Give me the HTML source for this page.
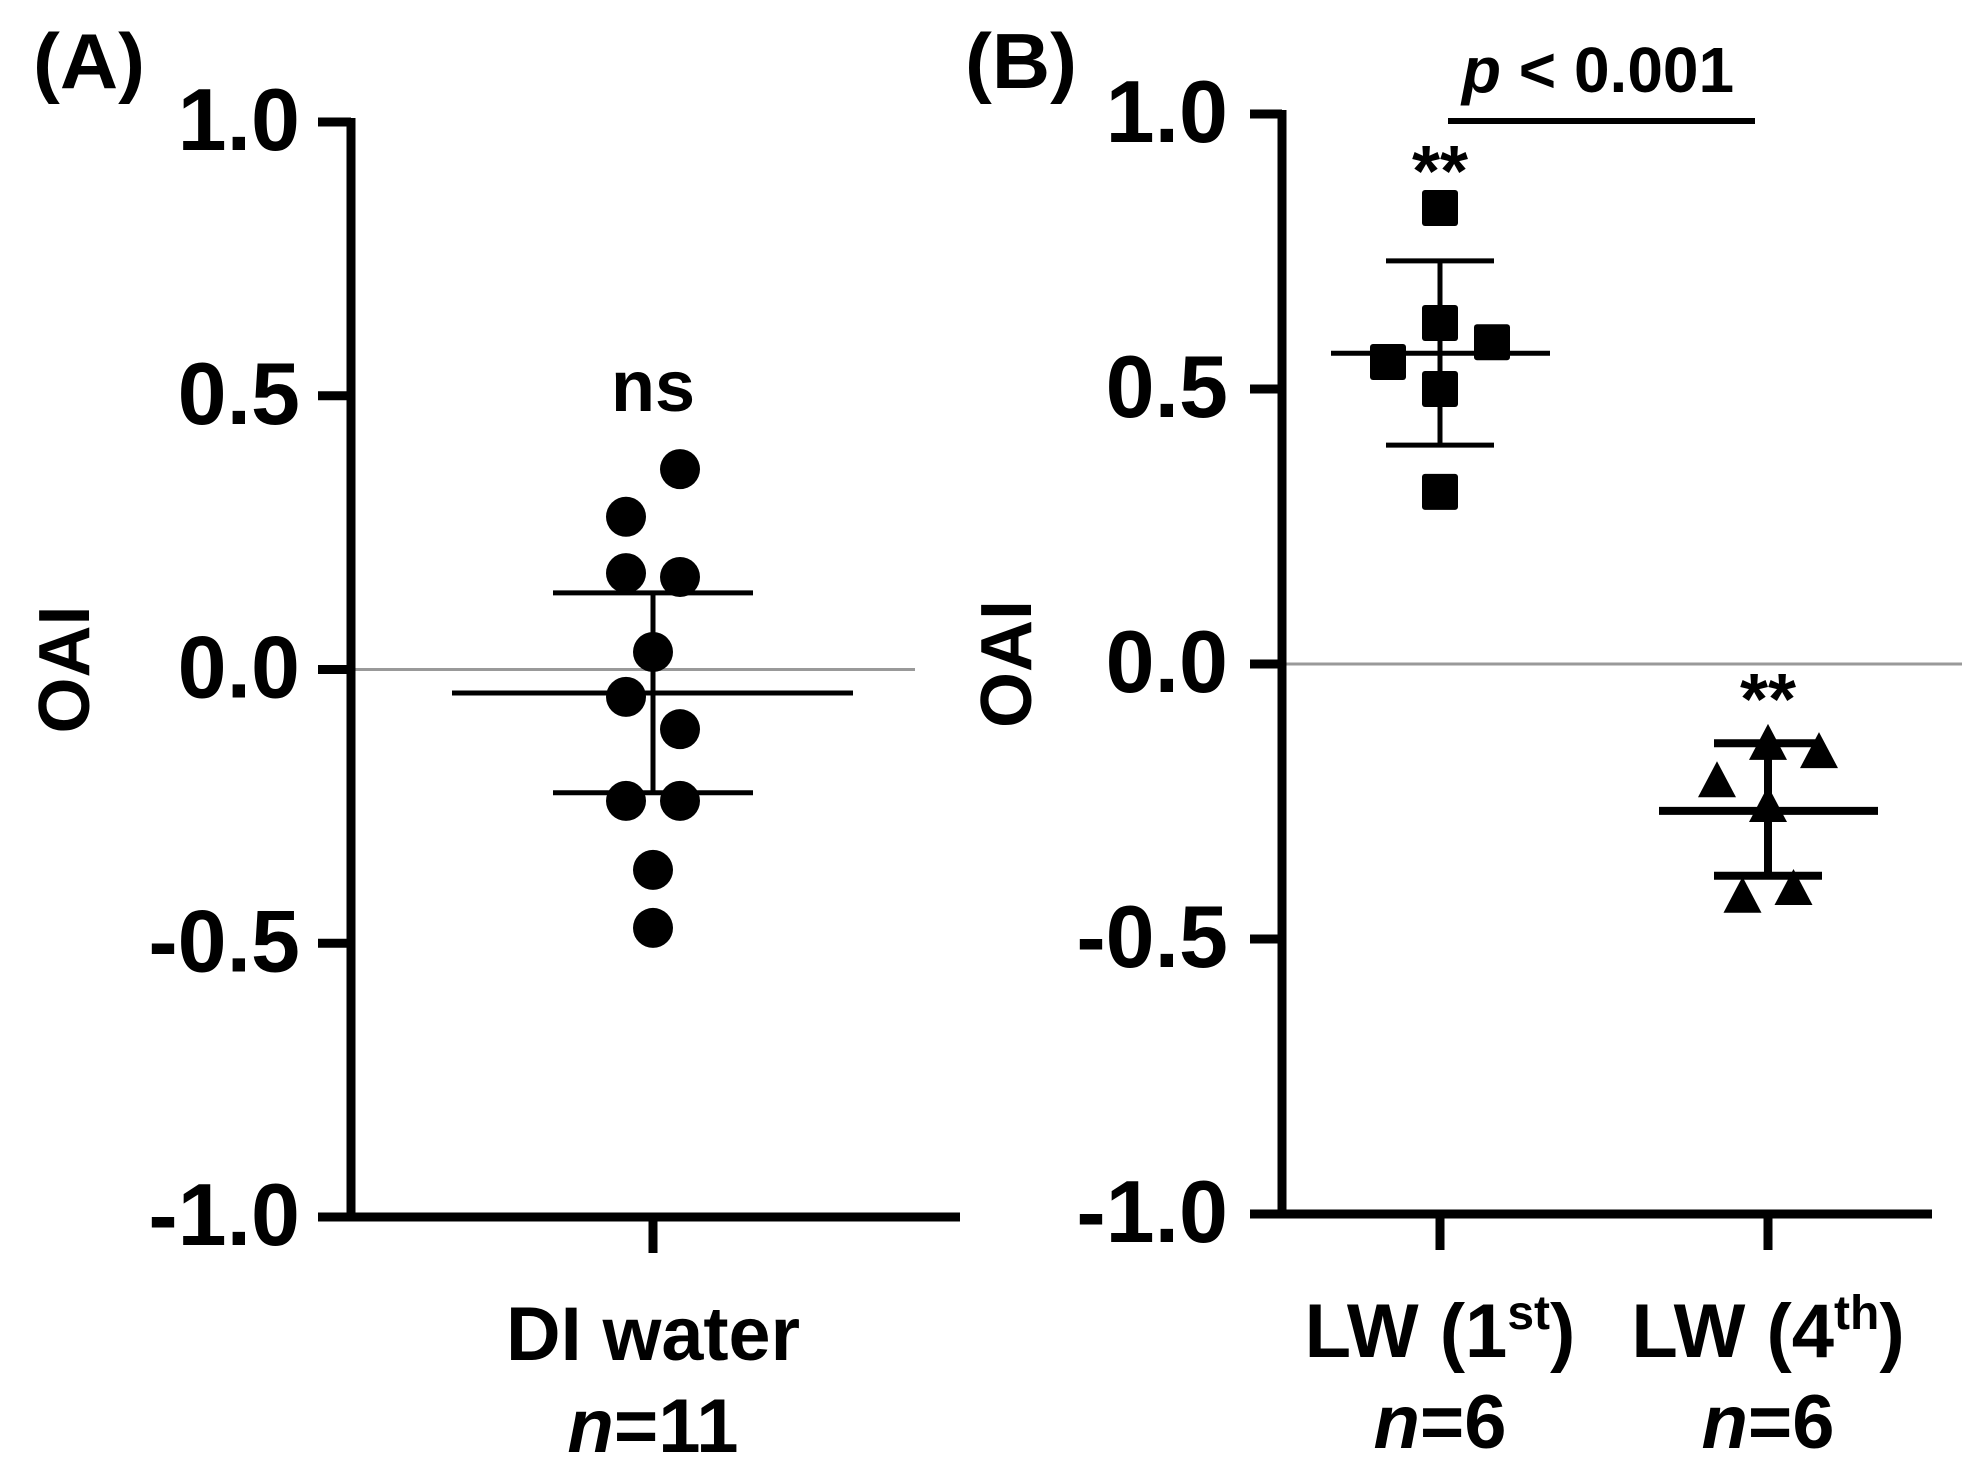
<!DOCTYPE html>
<html><head><meta charset="utf-8"><style>
html,body{margin:0;padding:0;background:#fff}
svg{display:block}
text{font-family:"Liberation Sans",Arial,sans-serif;font-weight:bold;fill:#000}
</style></head><body>
<svg id="fig" width="1978" height="1476" viewBox="0 0 1978 1476" xmlns="http://www.w3.org/2000/svg">
<g id="panelA"></g>
<g id="panelB"></g>
</svg>
<script>
const yTicks = [1.0, 0.5, 0.0, -0.5, -1.0];
const yTickLabels = ["1.0", "0.5", "0.0", "-0.5", "-1.0"];
const catsA = ["DI water"];
const nA = ["11"];
const diWater = [0.366, 0.279, 0.176, 0.169, 0.032, -0.05, -0.109, -0.24, -0.24, -0.366, -0.472];
const diWaterSlot = [1, -1, -1, 1, 0, -1, 1, -1, 1, 0, 0];
const diMean = [-0.043];
const diSdUpper = [0.14];
const diSdLower = [-0.225];
const lw1 = [0.829, 0.62, 0.549, 0.585, 0.5, 0.313];
const lw1Slot = [0, 0, -1, 1, 0, 0];
const lw4 = [-0.147, -0.162, -0.215, -0.26, -0.425, -0.411];
const lw4Slot = [0, 1, -1, 0, -0.5, 0.5];
const lwMean = [0.565, -0.267];
const lwSdUpper = [0.733, -0.144];
const lwSdLower = [0.398, -0.385];
const sigLabel = ["**", "**"];

const NS = "http://www.w3.org/2000/svg";
function mk(parent, tag, attrs, txt){
  const e = document.createElementNS(NS, tag);
  for (const k in attrs) e.setAttribute(k, attrs[k]);
  if (txt !== undefined) e.textContent = txt;
  parent.appendChild(e);
  return e;
}
function yA(v){ return 669.5 - v*547.5; }
function yB(v){ return 664 - v*550; }

// ---------- Panel A ----------
const A = document.getElementById('panelA');
const axA = 351, xA = 653;
let t = mk(A,'text',{x:33,y:88,'font-size':78,textLength:112,lengthAdjust:'spacingAndGlyphs'},'(A)');


let zl = mk(A,'line',{x1:axA,x2:915,y1:yA(0),y2:yA(0),stroke:'#999','stroke-width':3});


yTicks.forEach((v,i)=>{
  const tk = mk(A,'line',{x1:318,x2:axA,y1:yA(v),y2:yA(v),stroke:'#000','stroke-width':9});
  
  
  const lb = mk(A,'text',{x:300,y:yA(v)+28,'font-size':88,'text-anchor':'end'},yTickLabels[i]);
  
  
});
let ax = mk(A,'path',{d:`M${axA} ${yA(1)-4} V${yA(-1)} H960`,stroke:'#000','stroke-width':9,fill:'none'});


let xt = mk(A,'line',{x1:xA,x2:xA,y1:yA(-1),y2:yA(-1)+36,stroke:'#000','stroke-width':9});


t = mk(A,'text',{x:63,y:yA(0),'font-size':72,'text-anchor':'middle',transform:`rotate(-90 63 ${yA(0)})`,dy:26},'OAI');


t = mk(A,'text',{x:xA,y:1360,'font-size':76,'text-anchor':'middle',textLength:294,lengthAdjust:'spacingAndGlyphs'},catsA[0]);


t = mk(A,'text',{x:xA,y:1452,'font-size':76,'text-anchor':'middle'});


mk(t,'tspan',{'font-style':'italic'},'n'); mk(t,'tspan',{},'='+nA[0]);
t = mk(A,'text',{x:xA,y:411,'font-size':72,'text-anchor':'middle'},'ns');


diWater.forEach((v,i)=>{
  const c = mk(A,'circle',{cx:xA+diWaterSlot[i]*27,cy:yA(v),r:20,fill:'#000'});
  
  
});
let eb = mk(A,'path',{d:`M${xA} ${yA(diSdUpper[0])} V${yA(diSdLower[0])} M553 ${yA(diSdUpper[0])} H753 M553 ${yA(diSdLower[0])} H753 M452 ${yA(diMean[0])} H853`,stroke:'#000','stroke-width':5,fill:'none'});



// ---------- Panel B ----------
const B = document.getElementById('panelB');
const axB = 1282, xB = [1440, 1768];
t = mk(B,'text',{x:965,y:88,'font-size':78,textLength:112,lengthAdjust:'spacingAndGlyphs'},'(B)');


zl = mk(B,'line',{x1:axB,x2:1962,y1:yB(0),y2:yB(0),stroke:'#999','stroke-width':3});


yTicks.forEach((v,i)=>{
  const tk = mk(B,'line',{x1:1250,x2:axB,y1:yB(v),y2:yB(v),stroke:'#000','stroke-width':9});
  
  
  const lb = mk(B,'text',{x:1228,y:yB(v)+28,'font-size':88,'text-anchor':'end'},yTickLabels[i]);
  
  
});
ax = mk(B,'path',{d:`M${axB} ${yB(1)-4} V${yB(-1)} H1932`,stroke:'#000','stroke-width':9,fill:'none'});


xB.forEach(x=>{
  const k = mk(B,'line',{x1:x,x2:x,y1:yB(-1),y2:yB(-1)+36,stroke:'#000','stroke-width':9});
  
  
});
t = mk(B,'text',{x:1005,y:yB(0),'font-size':72,'text-anchor':'middle',transform:`rotate(-90 1005 ${yB(0)})`,dy:26},'OAI');


const sup = ['st','th'], num = ['1','4'];
xB.forEach((x,i)=>{
  const c = mk(B,'text',{x:x,y:1357,'font-size':76,'text-anchor':'middle'});
  
  
  mk(c,'tspan',{},'LW ('+num[i]); mk(c,'tspan',{'font-size':48,dy:-28},sup[i]); mk(c,'tspan',{dy:28},')');
  const n = mk(B,'text',{x:x,y:1448,'font-size':76,'text-anchor':'middle'});
  
  
  mk(n,'tspan',{'font-style':'italic'},'n'); mk(n,'tspan',{},'=6');
});
lw1.forEach((v,i)=>{
  const r = mk(B,'rect',{x:xB[0]+lw1Slot[i]*52-18,y:yB(v)-18,width:36,height:36,rx:3,fill:'#000'});
  
  
});
lw4.forEach((v,i)=>{
  const cx = xB[1]+lw4Slot[i]*51, cy = yB(v);
  const p = mk(B,'path',{d:`M${cx} ${cy-21} L${cx+19} ${cy+15} L${cx-19} ${cy+15} Z`,fill:'#000'});
  
  
});
[0,1].forEach(i=>{
  const x = xB[i], w = i===0 ? 5 : 8;
  const e = mk(B,'path',{d:`M${x} ${yB(lwSdUpper[i])} V${yB(lwSdLower[i])} M${x-54} ${yB(lwSdUpper[i])} H${x+54} M${x-54} ${yB(lwSdLower[i])} H${x+54} M${x-109} ${yB(lwMean[i])} H${x+110}`,stroke:'#000','stroke-width':w,fill:'none'});
  
  
});
t = mk(B,'text',{x:xB[0],y:196,'font-size':72,'text-anchor':'middle'},sigLabel[0]);


t = mk(B,'text',{x:xB[1],y:724,'font-size':72,'text-anchor':'middle'},sigLabel[1]);


let sb = mk(B,'line',{x1:1448,x2:1755,y1:121,y2:121,stroke:'#000','stroke-width':6});


t = mk(B,'text',{x:1598,y:92,'font-size':64,'text-anchor':'middle'});


mk(t,'tspan',{'font-style':'italic'},'p'); mk(t,'tspan',{},' < 0.001');
</script>
</body></html>
